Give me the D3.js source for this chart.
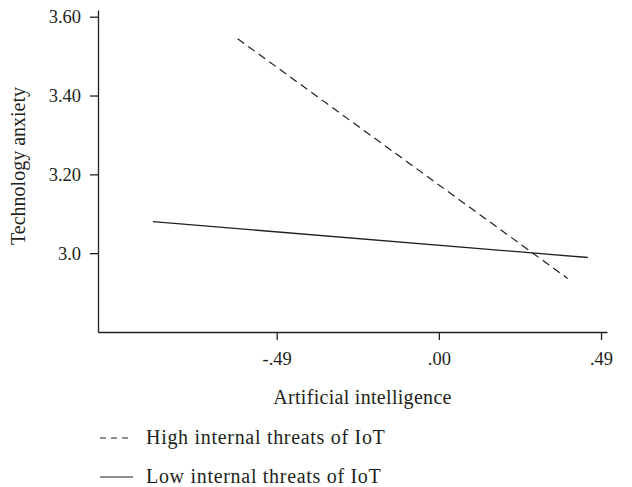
<!DOCTYPE html>
<html>
<head>
<meta charset="utf-8">
<script src="https://cdn.jsdelivr.net/npm/d3@7"></script>
<style>
  body { margin: 0; background: #fff; }
  text { font-family: "Liberation Serif", "Times New Roman", serif; fill: #231f20; }
</style>
</head>
<body>
<svg id="chart"></svg>
<script>
// tick values and labels
const xTicks = [-0.49, 0, 0.49];
const xTickLabels = ["-.49", ".00", ".49"];
const yTicks = [3.0, 3.2, 3.4, 3.6];
const yTickLabels = ["3.0", "3.20", "3.40", "3.60"];

// series: [artificial intelligence, technology anxiety]
const seriesNames = ["High internal threats of IoT", "Low internal threats of IoT"];
const highThreats = [[-0.608, 3.544], [0.389, 2.936]];
const lowThreats = [[-0.864, 3.080], [0.450, 2.989]];

const width = 632, height = 487;
const padding = { top: 10, right: 25, bottom: 155, left: 98 };

const svg = d3.select("#chart")
    .attr("width", width)
    .attr("height", height);

// scales
const xScale = d3.scaleLinear()
    .domain([-1.03, 0.508])
    .range([padding.left, width - padding.right]);

const yScale = d3.scaleLinear()
    .domain([2.8, 3.617])
    .range([height - padding.bottom, padding.top]);

// x axis
const xAxis = d3.axisBottom(xScale)
    .tickValues(xTicks)
    .tickFormat((d, i) => xTickLabels[i])
    .tickSizeInner(8)
    .tickSizeOuter(0)
    .tickPadding(12);

const gx = svg.append("g")
    .attr("transform", `translate(0, ${yScale(2.8)})`)
    .call(xAxis);

// y axis
const yAxis = d3.axisLeft(yScale)
    .tickValues(yTicks)
    .tickFormat((d, i) => yTickLabels[i])
    .tickSizeInner(8)
    .tickSizeOuter(0)
    .tickPadding(9);

const gy = svg.append("g")
    .attr("transform", `translate(${xScale(-1.03)}, 0)`)
    .call(yAxis);

[gx, gy].forEach(g => {
    g.selectAll("path, line").attr("stroke", "#231f20").attr("stroke-width", 1.3);
    g.selectAll("text")
        .style("font-family", '"Liberation Serif", serif')
        .style("font-size", "18.5px")
        .style("fill", "#231f20");
});

// axis titles
svg.append("text")
    .attr("x", (xScale(-1.03) + xScale(0.508)) / 2 + 10)
    .attr("y", 404)
    .attr("text-anchor", "middle")
    .style("font-size", "20px")
    .style("letter-spacing", "0.3px")
    .text("Artificial intelligence");

svg.append("text")
    .attr("transform", "rotate(-90)")
    .attr("x", -166)
    .attr("y", 25)
    .attr("text-anchor", "middle")
    .style("font-size", "20px")
    .text("Technology anxiety");

// lines
const line = d3.line()
    .x(d => xScale(d[0]))
    .y(d => yScale(d[1]));

svg.append("path")
    .datum(highThreats)
    .attr("d", line)
    .attr("fill", "none")
    .attr("stroke", "#231f20")
    .attr("stroke-width", 1.2)
    .attr("stroke-dasharray", "8,5");

svg.append("path")
    .datum(lowThreats)
    .attr("d", line)
    .attr("fill", "none")
    .attr("stroke", "#231f20")
    .attr("stroke-width", 1.3);

// legend
const legend = svg.append("g");
const legendRows = [
    { name: seriesNames[0], dash: "6,5", y: 438 },
    { name: seriesNames[1], dash: null, y: 477 }
];
legendRows.forEach(r => {
    legend.append("line")
        .attr("x1", 100)
        .attr("x2", 133)
        .attr("y1", r.y)
        .attr("y2", r.y)
        .attr("stroke", "#231f20")
        .attr("stroke-width", 1.2)
        .attr("stroke-dasharray", r.dash);
    legend.append("text")
        .attr("x", 146)
        .attr("y", r.y + 6)
        .style("font-size", "20px")
        .style("letter-spacing", "0.7px")
        .text(r.name);
});
</script>
</body>
</html>
